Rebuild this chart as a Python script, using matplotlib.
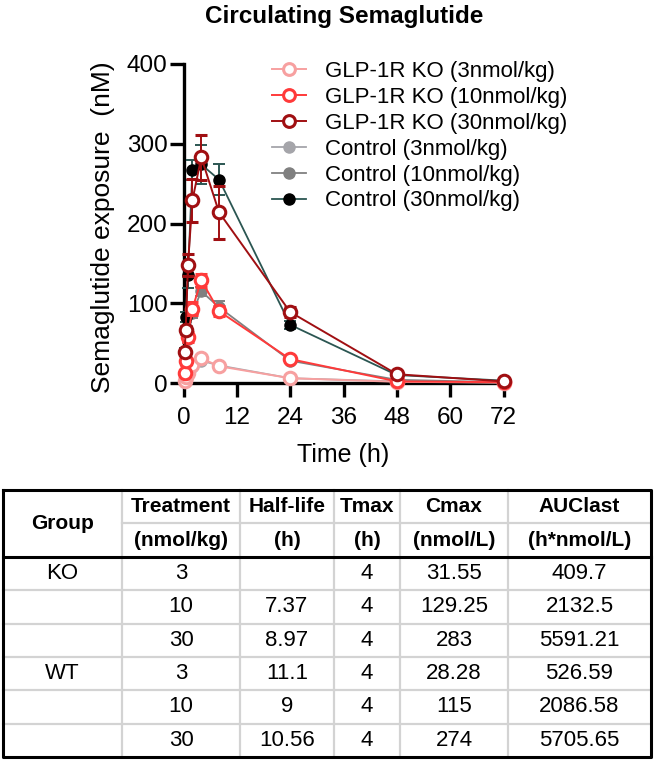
import matplotlib
matplotlib.use("Agg")
import matplotlib.pyplot as plt
from matplotlib.lines import Line2D

plt.rcParams['font.family'] = ['Liberation Sans', 'DejaVu Sans']

# sampling times (h)
time_h = [0.25, 0.5, 1, 2, 4, 8, 24, 48, 72]

# GLP-1R KO mice
ko_3 = [3, 8, 13, 22, 31, 21, 6, 1.5, 0.5]
ko_10 = [12, 27, 58, 93, 129, 90, 30, 2, 1]
ko_30 = [39, 67, 148, 229, 283, 214, 89, 11, 2]
ko_3_err = [1, 1, 2, 2, 3, 2, 1, 0.5, 0.2]
ko_10_err = [2, 4, 6, 8, 8, 6, 3, 1, 0.5]
ko_30_err = [3, 5, 14, 27, 28, 33, 6, 2, 0.5]

# control mice
ctl_3 = [2, 6, 12, 20, 28, 22, 6, 2, 0.5]
ctl_10 = [10, 25, 55, 88, 115, 95, 28, 4, 1]
ctl_30 = [40, 83, 135, 267, 274, 255, 73, 10, 3]
ctl_3_err = [1, 1, 2, 2, 3, 2, 1, 0.5, 0.2]
ctl_10_err = [2, 3, 5, 6, 6, 8, 3, 1, 0.5]
ctl_30_err = [4, 6, 16, 13, 25, 19, 5, 2, 0.5]

# PK summary table
tbl_cols = ["Treatment", "Half-life", "Tmax", "Cmax", "AUClast"]
tbl_units = ["(nmol/kg)", "(h)", "(h)", "(nmol/L)", "(h*nmol/L)"]
tbl_group = ["KO", "", "", "WT", "", ""]
tbl_dose = ["3", "10", "30", "3", "10", "30"]
tbl_halflife = ["", "7.37", "8.97", "11.1", "9", "10.56"]
tbl_tmax = ["4", "4", "4", "4", "4", "4"]
tbl_cmax = ["31.55", "129.25", "283", "28.28", "115", "274"]
tbl_auc = ["409.7", "2132.5", "5591.21", "526.59", "2086.58", "5705.65"]

W, H = 654, 762
fig = plt.figure(figsize=(W / 100, H / 100), dpi=100)

ax = fig.add_axes([183.5 / W, (H - 383) / H, 320 / W, 319 / H])

ctl_series = [
    (ctl_3, ctl_3_err, "#A5A5AA", "#A5A5AA", "Control (3nmol/kg)"),
    (ctl_10, ctl_10_err, "#808080", "#808080", "Control (10nmol/kg)"),
    (ctl_30, ctl_30_err, "#2B5652", "#000000", "Control (30nmol/kg)"),
]
ko_series = [
    (ko_3, ko_3_err, "#F7A0A0", "GLP-1R KO (3nmol/kg)"),
    (ko_10, ko_10_err, "#FF3A3A", "GLP-1R KO (10nmol/kg)"),
    (ko_30, ko_30_err, "#A00F12", "GLP-1R KO (30nmol/kg)"),
]

handles = {}
for y, err, lc, mc, lab in ctl_series:
    ax.errorbar(time_h, y, yerr=err, color=lc, lw=1.3, marker='o', ms=8,
                mfc=mc, mec=mc, capsize=4.5, capthick=1.4, elinewidth=1.4,
                ecolor=lc, clip_on=False, zorder=3)
    handles[lab] = Line2D([], [], color=lc, lw=1.3, marker='o', ms=8, mfc=mc, mec=mc)
for y, err, c, lab in ko_series:
    ax.errorbar(time_h, y, yerr=err, color=c, lw=1.4, marker='o', ms=9,
                mfc='white', mec=c, mew=2.2, capsize=4.5, capthick=1.4,
                elinewidth=1.4, ecolor=c, clip_on=False, zorder=4)
    handles[lab] = Line2D([], [], color=c, lw=1.4, marker='o', ms=8.5,
                          mfc='white', mec=c, mew=2.2)

ax.set_xlim(0, 72)
ax.set_ylim(0, 400)
ax.set_xticks([0, 12, 24, 36, 48, 60, 72])
ax.set_yticks([0, 100, 200, 300, 400])
for s in ['top', 'right']:
    ax.spines[s].set_visible(False)
for s in ['left', 'bottom']:
    ax.spines[s].set_linewidth(2.4)
ax.tick_params(direction='out', length=10, width=2.4, labelsize=17.5)
ax.tick_params(axis='y', pad=1.5)
ax.tick_params(axis='x', pad=7)
ax.set_ylabel("Semaglutide exposure  (nM)", fontsize=19, va='center')
ax.yaxis.set_label_coords((103 - 183.5) / 320, 0.49)
ax.set_xlabel("Time (h)", fontsize=18, va='center')
ax.xaxis.set_label_coords(0.5, -(455 - 383) / 319)

order = [s[3] for s in ko_series] + [s[4] for s in ctl_series]
ax.legend([handles[k] for k in order], order, loc='upper left',
          bbox_to_anchor=(272 / W, 1 - 61 / H), bbox_transform=fig.transFigure,
          frameon=False, fontsize=16, handlelength=1.55, handletextpad=0.85,
          labelspacing=0.22, borderpad=0, borderaxespad=0)

fig.text(344 / W, 1 - 17 / H, "Circulating Semaglutide", ha='center',
         va='center', fontsize=17.5, fontweight='bold')

# table drawn on a full-figure overlay in pixel coordinates
tx = fig.add_axes([0, 0, 1, 1])
tx.set_xlim(0, W)
tx.set_ylim(H, 0)
tx.axis('off')

col_x = [3, 122, 240, 334, 400, 508, 651]
top, mid, hdr = 490, 523, 557
row_h = (757 - hdr) / 6
row_y = [hdr + i * row_h for i in range(7)]
grid = '#D3D3D3'

for x in col_x[1:-1]:
    tx.plot([x, x], [top, row_y[-1]], color=grid, lw=1.6)
tx.plot([col_x[1], col_x[-1]], [mid, mid], color=grid, lw=1.6)
for yy in row_y[1:-1]:
    tx.plot([col_x[0], col_x[-1]], [yy, yy], color=grid, lw=1.6)
tx.plot([col_x[0], col_x[-1]], [hdr, hdr], color='black', lw=2.2)
tx.plot([col_x[0], col_x[-1], col_x[-1], col_x[0], col_x[0]],
        [top, top, row_y[-1], row_y[-1], top], color='black', lw=2.2)

centers = [(col_x[i] + col_x[i + 1]) / 2 for i in range(6)]
tx.text(centers[0], (top + hdr) / 2, "Group", ha='center', va='center',
        fontsize=15, fontweight='bold')
for i, (c, u) in enumerate(zip(tbl_cols, tbl_units)):
    tx.text(centers[i + 1], (top + mid) / 2, c, ha='center', va='center',
            fontsize=15, fontweight='bold')
    tx.text(centers[i + 1], (mid + hdr) / 2, u, ha='center', va='center',
            fontsize=15, fontweight='bold')

rows = list(zip(tbl_group, tbl_dose, tbl_halflife, tbl_tmax, tbl_cmax, tbl_auc))
for r, vals in enumerate(rows):
    yc = (row_y[r] + row_y[r + 1]) / 2
    for i, v in enumerate(vals):
        tx.text(centers[i], yc, v, ha='center', va='center', fontsize=16)

fig.savefig("out.png", dpi=100)
